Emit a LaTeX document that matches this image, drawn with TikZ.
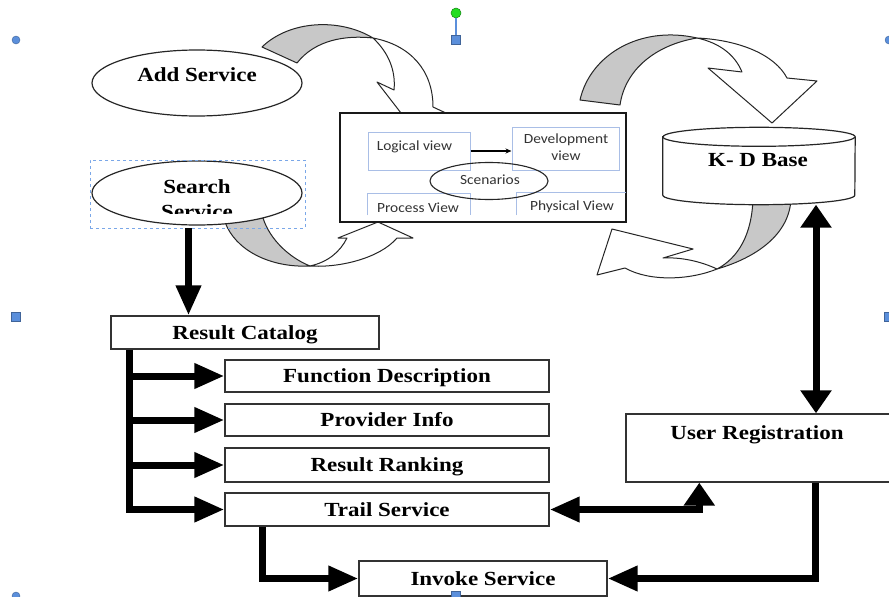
\documentclass[tikz,border=0pt]{standalone}
\usepackage{fontspec}
\setmainfont{Liberation Serif}[FakeStretch=1.15]
\newfontfamily\viewfont{Carlito}[FakeStretch=1.1]
\usetikzlibrary{shapes.geometric,arrows.meta}

\definecolor{ribbon}{HTML}{C8C8C8}
\definecolor{viewblue}{HTML}{A9BEE6}
\definecolor{selblue}{HTML}{7AA7E8}
\definecolor{hdl}{HTML}{5B8FDB}
\definecolor{rotgreen}{HTML}{22DD22}

\tikzset{
  lbl/.style={inner sep=0pt, text height=13.5pt, text depth=0pt, font=\fontsize{20}{22}\selectfont\bfseries},
  card/.style={draw=black!80, line width=1.4pt, fill=white, inner sep=0pt, text height=13.5pt, text depth=0pt, font=\fontsize{20}{22}\selectfont\bfseries},
  oval/.style={ellipse, draw=black!85, line width=1.2pt, fill=white, inner sep=0pt},
  vbox/.style={draw=viewblue, line width=1pt, inner sep=0pt},
  vtxt/.style={inner sep=0pt, align=center, font=\viewfont\fontsize{14}{17}\selectfont, text=black!80},
  cyl/.style={draw=black!85, line width=1.2pt, fill=white},
  back/.style={fill=ribbon, draw=black!85, line width=1pt, line join=round},
  front/.style={fill=white, draw=black!85, line width=1pt, line join=round},
  fat/.style={line width=7pt, -{Triangle[length=30pt,width=24pt]}},
  fatboth/.style={line width=7pt, <->, >={Triangle[length=23pt,width=30pt]}},
  dot/.style={circle, fill=hdl, draw=hdl!70!black, line width=0.4pt, minimum size=8pt, inner sep=0pt},
  knob/.style={rectangle, fill=hdl, draw=hdl!70!black, line width=0.4pt, minimum size=9pt, inner sep=0pt},
}

\begin{document}
\begin{tikzpicture}[x=1pt,y=-1pt]
\useasboundingbox (0,0) rectangle (889,597);
\fill[white] (0,0) rectangle (889,597);
\clip (0,0) rectangle (889,597);

\draw[back] (262,47) .. controls (290,20) and (340,18) .. (373,38) .. controls (345,35) and (315,40) .. (297,63) -- cycle;
\draw[front] (373,38) .. controls (410,45) and (433,70) .. (433,107) -- (448,114) -- (418,135) -- (377,82) -- (394,90) .. controls (396,70) and (388,52) .. (373,38) -- cycle;
\draw[back] (225,222) .. controls (235,250) and (270,268) .. (310,266) .. controls (290,258) and (270,240) .. (263,218) -- cycle;
\draw[front] (310,266) .. controls (340,268) and (380,258) .. (397,238) -- (413,238) -- (378,222) -- (338,238) -- (347,238) .. controls (340,252) and (328,262) .. (310,266) -- cycle;
\draw[back] (580,100) .. controls (590,55) and (640,25) .. (697,38) .. controls (655,45) and (625,70) .. (620,105) -- cycle;
\draw[front] (697,38) .. controls (740,40) and (775,55) .. (787,78) -- (817,81) -- (772,123) -- (708,68) -- (742,72) .. controls (735,55) and (720,43) .. (697,38) -- cycle;
\draw[back] (753,198) .. controls (752,235) and (738,258) .. (717,269) .. controls (755,258) and (790,235) .. (791,198) -- cycle;
\draw[front] (717,269) .. controls (700,261) and (680,257) .. (663,258) -- (693,249) -- (612,229) -- (597,275) -- (625,268) .. controls (650,282) and (690,280) .. (717,269) -- cycle;

\node[oval, minimum width=210pt, minimum height=66pt] (addsvc) at (197,83) {};
\node[lbl] (addtxt) at (197,75) {Add Service};
\node[oval, minimum width=210pt, minimum height=64pt] (srch) at (197,193) {};
\node[lbl] (srchtxt) at (197,186.5) {Search};
\begin{scope}
  \clip (120,150) rectangle (280,213);
  \node[lbl] (srchtxt2) at (197,211.5) {Service};
\end{scope}

\node[draw=black!90, line width=1.3pt, fill=white, minimum width=286pt, minimum height=109pt, inner sep=0pt] (arch) at (483,167.5) {};
\node[vbox, minimum width=102pt, minimum height=38pt] (logic) at (419,151) {};
\node[vtxt] (logictxt) at (414.5,147) {Logical view};
\node[vbox, minimum width=107pt, minimum height=43pt] (devel) at (565.5,148.5) {};
\node[vtxt] (develtxt) at (566,147.5) {Development\\view};
\draw[-{Stealth[length=6pt,width=5pt]}, line width=1.2pt] (logic.east) -- (logic.east -| devel.west);
\node[inner sep=0pt, minimum width=102pt, minimum height=21pt] (proc) at (419,204.5) {};
\draw[viewblue, line width=1pt] (proc.south west) -- (proc.north west) -- (proc.north east) -- (proc.south east);
\node[vtxt] (proctxt) at (418,208) {Process View};
\node[inner sep=0pt, minimum width=109pt, minimum height=22pt] (phys) at (571.5,204) {};
\draw[viewblue, line width=1pt] (phys.south west) -- (phys.north west) -- (phys.north east);
\node[vtxt] (phystxt) at (572,207) {Physical View};
\node[ellipse, draw=black!85, line width=1.1pt, minimum width=118pt, minimum height=37pt, inner sep=0pt] (scen) at (489,181) {};
\node[vtxt] (scentxt) at (490,180) {Scenarios};

\node[inner sep=0pt, minimum width=192pt, minimum height=77pt] (kdb) at (759,166) {};
\draw[cyl] ([yshift=-9.5pt]kdb.north west) -- ([yshift=9.5pt]kdb.south west) arc[start angle=180, end angle=360, x radius=96pt, y radius=9.5pt] -- ([yshift=-9.5pt]kdb.north east) arc[start angle=0, end angle=180, x radius=96pt, y radius=9.5pt] -- cycle;
\draw[cyl, fill=none] ([yshift=-9.5pt]kdb.north west) arc[start angle=180, end angle=360, x radius=96pt, y radius=9.5pt];
\node[lbl] (kdbtxt) at (758,160) {K- D Base};

\node[card, minimum width=268pt, minimum height=33pt] (rescat) at (245,332.5) {Result Catalog};
\node[card, minimum width=324pt, minimum height=32pt] (func) at (387,376) {Function Description};
\node[card, minimum width=324pt, minimum height=32pt] (prov) at (387,420) {Provider Info};
\node[card, minimum width=324pt, minimum height=34pt] (rank) at (387,465) {Result Ranking};
\node[card, minimum width=324pt, minimum height=33pt] (trail) at (387,509.5) {Trail Service};
\node[card, minimum width=248pt, minimum height=35pt] (invoke) at (483,578.5) {Invoke Service};
\node[card, minimum width=274pt, minimum height=68pt] (usrreg) at (763,448) {};
\node[lbl] (usrtxt) at (757,432.5) {User Registration};

\node[draw=selblue, dashed, line width=0.9pt, minimum width=215pt, minimum height=68pt, inner sep=0pt] (srchsel) at (197.5,194) {};

\draw[fat] ([xshift=-9pt]srchsel.south) -- ([xshift=-9pt]srchsel.south |- rescat.north);
\coordinate (trunk) at ([xshift=19pt]rescat.south west);
\draw[fat] (trunk) |- (trail.west);
\foreach \b in {func,prov,rank}
  \draw[fat] (trunk |- \b.west) -- (\b.west);
\draw[fat] ([xshift=38pt]trail.south west) |- (invoke.west);
\draw[{Triangle[length=30pt,width=24pt]}-{Triangle[length=23pt,width=30pt]}, line width=7pt] (trail.east) -| ([xshift=74pt]usrreg.south west);
\draw[fat] ([xshift=190pt]usrreg.south west) |- (invoke.east);
\draw[fatboth] ([xshift=57pt]kdb.south) -- ([xshift=57pt]kdb.south |- usrreg.north);

\node[dot] (hnw) at (16,40) {};
\node[dot] (hne) at (889,40) {};
\node[knob] (hw) at (16,317) {};
\node[knob] (he) at (889,317) {};
\node[dot] (hsw) at (16,596) {};
\node[knob] (hs) at (456,596) {};
\node[knob] (hn) at (456,40) {};
\node[circle, fill=rotgreen, draw=rotgreen!60!black, line width=0.5pt, minimum size=10pt, inner sep=0pt] (hrot) at (456,13) {};
\draw[hdl, line width=1.2pt] (hrot) -- (hn);
\end{tikzpicture}
\end{document}
